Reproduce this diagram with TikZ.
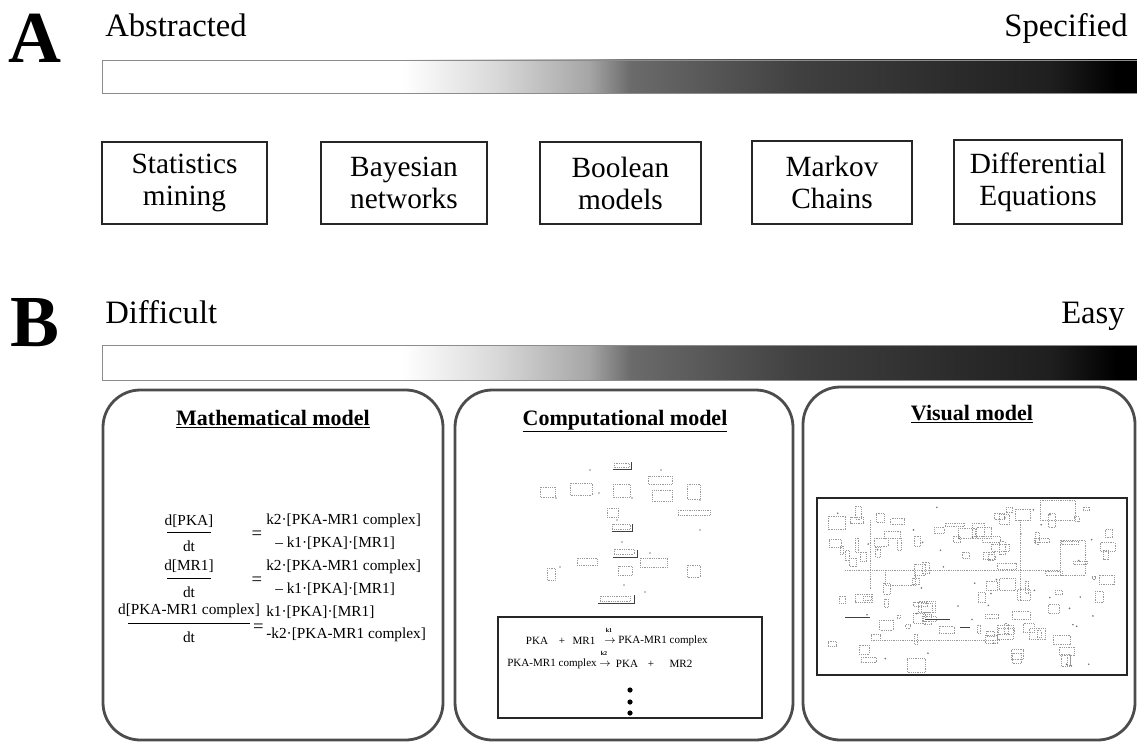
\documentclass[tikz,border=0pt]{standalone}
\usepackage{fontspec}
\setmainfont{Liberation Serif}
\usetikzlibrary{calc}
\pgfdeclarehorizontalshading{specshade}{100bp}{color(0bp)=(white); color(39.5bp)=(white); color(44bp)=(black!15); color(48.5bp)=(black!35); color(50.5bp)=(black!58); color(58.7bp)=(black!75); color(70.8bp)=(black!88); color(74bp)=(black); color(100bp)=(black)}
\tikzset{
  head/.style={inner sep=0pt, font=\fontsize{24.5}{28}\selectfont},
  biglbl/.style={inner sep=0pt, font=\bfseries\fontsize{55}{56}\selectfont},
  gbar/.style={shading=specshade, draw=black!45, line width=0.6pt, minimum width=776.25pt, inner sep=0pt},
  abox/.style={draw=black!85, line width=0.9pt, align=center, inner sep=0pt, font=\fontsize{22}{24}\selectfont},
  rbox/.style={draw=black!70, line width=2.1pt, rounded corners=28pt, inner sep=0pt},
  ttl/.style={inner sep=0pt, font=\bfseries\fontsize{16.5}{18}\selectfont},
  eq/.style={inner sep=0pt, font=\fontsize{11.5}{13}\selectfont},
  eqs/.style={inner sep=0pt, font=\fontsize{14}{15}\selectfont},
  rx/.style={inner sep=0pt, font=\fontsize{8.3}{9}\selectfont},
  kl/.style={inner sep=0pt, font=\bfseries\fontsize{4.5}{5}\selectfont},
  frbar/.style={line width=0.6pt},
  inrect/.style={draw=black!85, line width=1.1pt},
  sketch/.style={draw=black!40, line width=0.35pt, densely dotted},
  sketchd/.style={draw=black!75, line width=0.6pt}
}
\begin{document}
\begin{tikzpicture}[x=0.75pt,y=-0.75pt]
\useasboundingbox (0,0) rectangle (1137,742);

% ---------- Panel A ----------
\node[biglbl, anchor=base west] (lblA) at (8,63) {A};
\node[head, anchor=base west] (abs) at (105,37) {Abstracted};
\node[head, anchor=base east] (spc) at (1128,37) {Specified};
\node[gbar, minimum height=24.75pt] (barA) at (620,76.5) {};

\node[abox, minimum width=123.75pt, minimum height=61.5pt] (stat) at (184.5,183) {Statistics\\mining};
\node[abox, minimum width=124.5pt, minimum height=61.5pt] (bay) at (404,183) {Bayesian\\networks};
\node[abox, minimum width=120.75pt, minimum height=61.5pt] (bool) at (620.5,183) {Boolean\\models};
\node[abox, minimum width=120pt, minimum height=62.25pt] (mark) at (832,182.5) {Markov\\Chains};
\node[abox, minimum width=126pt, minimum height=63pt] (dif) at (1038,182) {Differential\\Equations};

% ---------- Panel B ----------
\node[biglbl, anchor=base west] (lblB) at (10,346) {B};
\node[head, anchor=base west] (dif2) at (105,323) {Difficult};
\node[head, anchor=base east] (easy) at (1125,323) {Easy};
\node[gbar, minimum height=26.25pt] (barB) at (620,362.5) {};

\node[rbox, minimum width=255pt, minimum height=262.5pt] (math) at (273,565) {};
\node[rbox, minimum width=253.5pt, minimum height=262.5pt] (comp) at (624,565) {};
\node[rbox, minimum width=249pt, minimum height=264.75pt] (vis) at (969,563.5) {};

\node[ttl, anchor=base] (tmath) at (273,425) {\underline{Mathematical model}};
\node[ttl, anchor=base] (tcomp) at (625,425) {\underline{Computational model}};
\node[ttl, anchor=base] (tvis) at (972,420) {\underline{Visual model}};

% ---------- Mathematical model equations ----------
\node[eq] (n1) at (189,521) {d[PKA]};
\draw[frbar] (167,532) -- (211,532);
\node[eq] (d1) at (189,546) {dt};
\node[eqs] (e1) at (257,535) {=};
\node[eq, anchor=west] (r1a) at (266,521) {k2·[PKA-MR1 complex]};
\node[eq, anchor=west] (r1b) at (275,543) {– k1·[PKA]·[MR1]};

\node[eq] (n2) at (189,566) {d[MR1]};
\draw[frbar] (167,578) -- (211,578);
\node[eq] (d2) at (189,592) {dt};
\node[eqs] (e2) at (257,581) {=};
\node[eq, anchor=west] (r2a) at (266,567) {k2·[PKA-MR1 complex]};
\node[eq, anchor=west] (r2b) at (275,589) {– k1·[PKA]·[MR1]};

\node[eq] (n3) at (189,611) {d[PKA-MR1 complex]};
\draw[frbar] (128,623) -- (250,623);
\node[eq] (d3) at (189,637) {dt};
\node[eqs] (e3) at (258.5,628) {=};
\node[eq, anchor=west] (r3a) at (266,612) {k1·[PKA]·[MR1]};
\node[eq, anchor=west] (r3b) at (266,635) {-k2·[PKA-MR1 complex]};

% ---------- Computational model ----------
\foreach \x/\y/\w/\h in {540/487/15/10, 570/483/22/12, 613/484/17/13, 648/476/24/8, 652/490/20/11, 687/484/13/15, 607/508/11/9, 678/510/32/5, 577/558/20/7, 640/558/27/9, 547/568/8/12, 618/566/14/9, 687/565/13/12}
  \draw[sketch] (\x,\y) rectangle ++(\w,\h);
\foreach \x/\y in {556/498, 599/493, 632/498, 700/500, 617/520, 590/470, 661/470, 700/530, 622/542, 650/553, 560/567, 624/585, 645/592}
  \fill[black!45] (\x,\y) circle (0.9);
\draw[sketchd] (613,469) -- (631,469) -- (631,462);
\draw[sketch] (614,463) rectangle (629,467);
\draw[sketchd] (612,531) -- (632,531) -- (632,524);
\draw[sketch] (612,524) rectangle (630,529);
\draw[sketchd] (613,557) -- (637,557) -- (637,550);
\draw[sketch] (614,549) rectangle (634,554);
\draw[sketchd] (598,603) -- (634,603) -- (634,595);
\draw[sketch] (600,596) rectangle (630,601);

\node[inrect, minimum width=198pt, minimum height=75.75pt] (rxbox) at (630,667.5) {};
\node[rx] (p1) at (537,641) {PKA};
\node[rx] (pl1) at (562,641) {+};
\node[rx] (m1) at (584,641) {MR1};
\node[rx] (a1) at (610,641) {$\rightarrow$};
\node[kl] (k1) at (609,630) {k1};
\node[rx, anchor=west] (c1) at (618,641) {PKA-MR1 complex};

\node[rx, anchor=east] (c2) at (597,664) {PKA-MR1 complex};
\node[rx] (a2) at (605,664) {$\rightarrow$};
\node[kl] (k2) at (604,653) {k2};
\node[rx] (p2) at (627,664) {PKA};
\node[rx] (pl2) at (651,664) {+};
\node[rx] (m2) at (681,664) {MR2};
\fill (630,690) circle (2.6) (630,702) circle (2.6) (630,713) circle (2.6);

% ---------- Visual model ----------
\node[inrect, minimum width=232.5pt, minimum height=132.75pt] (visimg) at (972,586.5) {};
\pgfmathsetseed{11}
\foreach \i in {1,...,95}{
  \pgfmathsetmacro{\xx}{828+rnd*280}
  \pgfmathsetmacro{\yy}{506+rnd*155}
  \pgfmathsetmacro{\ww}{3+rnd*16}
  \pgfmathsetmacro{\hh}{3+rnd*11}
  \draw[sketch] (\xx,\yy) rectangle ++(\ww,\hh);
}
\foreach \i in {1,...,40}{
  \pgfmathsetmacro{\xx}{828+rnd*285}
  \pgfmathsetmacro{\yy}{506+rnd*160}
  \fill[black!55] (\xx,\yy) circle (0.9);
}
\draw[sketch] (880,640) -- (1000,640);
\draw[sketch] (845,570) -- (1060,570);
\draw[sketch] (870,520) -- (870,590);
\draw[sketch] (1020,520) -- (1020,600);
\draw[sketchd] (845,617) -- (870,617);
\draw[sketchd] (925,619) -- (950,619);
\draw[sketchd] (960,627) -- (970,627);
\draw[sketch] (885,570) rectangle (915,585);
\draw[sketch] (1060,540) rectangle (1085,575);
\draw[sketch] (1040,500) rectangle (1075,520);
\end{tikzpicture}
\end{document}
